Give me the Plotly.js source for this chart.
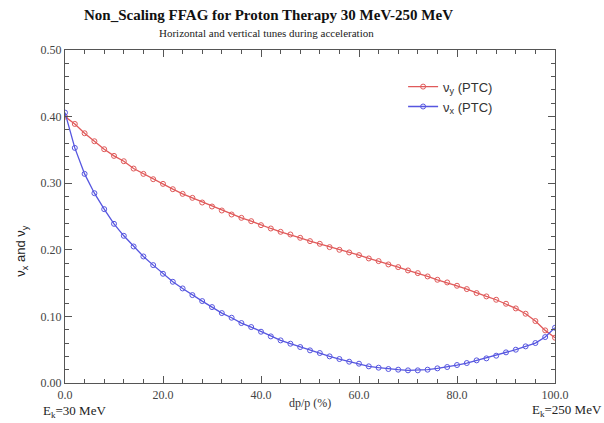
<!DOCTYPE html>
<html>
<head>
<meta charset="utf-8">
<script src="https://cdn.plot.ly/plotly-3.0.1.min.js"></script>
<style>html,body{margin:0;padding:0;background:#fff;}#chart{width:604px;height:423px;}</style>
</head>
<body>
<div id="chart"></div>
<script>
// dp/p (%) sample positions
const dpp = [0,2,4,6,8,10,12,14,16,18,20,22,24,26,28,30,32,34,36,38,40,42,44,46,48,50,
             52,54,56,58,60,62,64,66,68,70,72,74,76,78,80,82,84,86,88,90,92,94,96,98,100];
// vertical tune nu_y (PTC)
const nuY = [0.400,0.389,0.375,0.363,0.351,0.341,0.333,0.322,0.314,0.306,0.299,0.291,0.284,0.278,0.271,0.265,
             0.259,0.253,0.248,0.243,0.237,0.232,0.227,0.223,0.218,0.213,0.209,0.204,0.200,0.196,0.192,0.187,
             0.183,0.178,0.174,0.169,0.165,0.160,0.155,0.151,0.146,0.141,0.135,0.130,0.125,0.119,0.112,0.104,
             0.093,0.079,0.068];
// horizontal tune nu_x (PTC)
const nuX = [0.406,0.353,0.314,0.285,0.261,0.239,0.221,0.205,0.190,0.177,0.164,0.152,0.142,0.132,0.123,0.114,
             0.105,0.098,0.090,0.084,0.077,0.070,0.064,0.059,0.054,0.049,0.045,0.040,0.036,0.032,0.029,0.025,
             0.023,0.021,0.020,0.019,0.019,0.020,0.022,0.024,0.027,0.030,0.034,0.037,0.041,0.046,0.050,0.055,
             0.060,0.069,0.083];
const xTicks = [0,20,40,60,80,100];
const xTickText = ['0.0','20.0','40.0','60.0','80.0','100.0'];
const yTicks = [0,0.1,0.2,0.3,0.4,0.5];
const yTickText = ['0.00','0.10','0.20','0.30','0.40','0.50'];
const seriesNames = ['ν<sub>y</sub> (PTC)','ν<sub>x</sub> (PTC)'];

const red = '#e05a5a', blue = '#5656e0';
const serif = 'Liberation Serif';
const sans = 'Liberation Sans';

const traces = [
  {x: dpp, y: nuY, name: seriesNames[0], mode: 'lines+markers', type: 'scatter',
   line: {color: red, width: 1.3},
   marker: {symbol: 'circle-open', size: 5, color: red, line: {width: 1, color: red}}},
  {x: dpp, y: nuX, name: seriesNames[1], mode: 'lines+markers', type: 'scatter',
   line: {color: blue, width: 1.3},
   marker: {symbol: 'circle-open', size: 5, color: blue, line: {width: 1, color: blue}}}
];

const axisCommon = {
  showline: true, linecolor: '#555', linewidth: 1.2, mirror: 'ticks',
  ticks: 'inside', ticklen: 7, tickwidth: 1, tickcolor: '#555',
  showgrid: false, zeroline: false,
  tickfont: {family: serif, size: 12, color: '#444'}
};

const layout = {
  width: 604, height: 423,
  margin: {l: 65, r: 49, t: 50, b: 39.5},
  paper_bgcolor: '#fff', plot_bgcolor: '#fff',
  font: {family: serif},
  showlegend: true,
  legend: {x: 0.69, y: 0.935, xanchor: 'left', yanchor: 'top', bgcolor: 'rgba(0,0,0,0)',
           font: {family: sans, size: 13, color: '#333'}, itemwidth: 30, tracegroupgap: 0},
  xaxis: Object.assign({}, axisCommon, {
    range: [0, 100], tickmode: 'array', tickvals: xTicks, ticktext: xTickText,
    minor: {dtick: 4, ticks: 'inside', ticklen: 4, tickcolor: '#555', tickwidth: 1, showgrid: false}
  }),
  yaxis: Object.assign({}, axisCommon, {
    range: [0, 0.5], tickmode: 'array', tickvals: yTicks, ticktext: yTickText,
    minor: {dtick: 0.02, ticks: 'inside', ticklen: 4, tickcolor: '#555', tickwidth: 1, showgrid: false}
  }),
  annotations: [
    {text: '<b>Non_Scaling FFAG for Proton Therapy 30 MeV-250 MeV</b>', xref: 'paper', yref: 'paper',
     x: (268-65)/490, y: 1 + (50-15)/333.5, xanchor: 'center', yanchor: 'middle', showarrow: false,
     font: {family: serif, size: 15, color: '#111'}},
    {text: 'Horizontal and vertical tunes during acceleration', xref: 'paper', yref: 'paper',
     x: (266-65)/490, y: 1 + (50-33)/333.5, xanchor: 'center', yanchor: 'middle', showarrow: false,
     font: {family: serif, size: 11, color: '#222'}},
    {text: 'dp/p (%)', xref: 'paper', yref: 'paper', x: (310-65)/490, y: -(404-383.5)/333.5,
     xanchor: 'center', yanchor: 'middle', showarrow: false, font: {family: serif, size: 12, color: '#333'}},
    {text: 'E<sub>k</sub>=30 MeV', xref: 'paper', yref: 'paper', x: (74-65)/490, y: -(412-383.5)/333.5,
     xanchor: 'center', yanchor: 'middle', showarrow: false, font: {family: serif, size: 13, color: '#222'}},
    {text: 'E<sub>k</sub>=250 MeV', xref: 'paper', yref: 'paper', x: (567-65)/490, y: -(411-383.5)/333.5,
     xanchor: 'center', yanchor: 'middle', showarrow: false, font: {family: serif, size: 13, color: '#222'}},
    {text: 'ν<sub>x</sub> and ν<sub>y</sub>', xref: 'paper', yref: 'paper', x: -(65-22)/490, y: (383.5-252)/333.5,
     xanchor: 'center', yanchor: 'middle', textangle: -90, showarrow: false,
     font: {family: sans, size: 13, color: '#222'}}
  ]
};

Plotly.newPlot('chart', traces, layout, {staticPlot: true, displayModeBar: false});
</script>
</body>
</html>
